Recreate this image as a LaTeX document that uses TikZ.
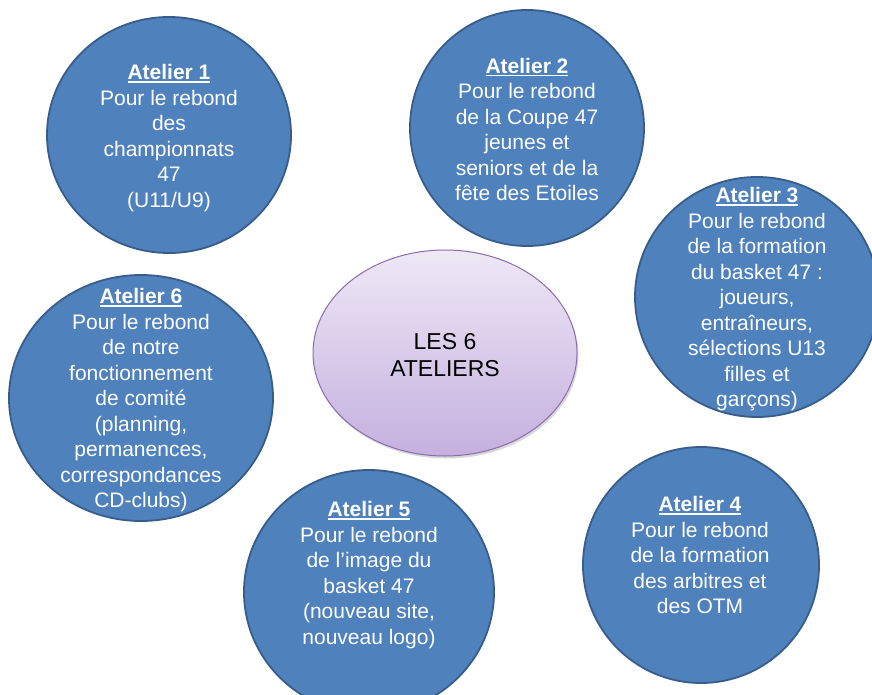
\documentclass[tikz,border=0pt]{standalone}
\usepackage{fontspec}
\setmainfont{Liberation Sans}
\usetikzlibrary{shapes.geometric,shadows}
\definecolor{ablue}{HTML}{4F81BD}
\definecolor{ablueline}{HTML}{385D8A}
\definecolor{ptop}{HTML}{EEE8F6}
\definecolor{pbot}{HTML}{C5B0DF}
\definecolor{pline}{HTML}{8A6DAD}
\newcommand\myul[1]{\setbox0\hbox{#1}\rlap{\rule[-3.2pt]{\wd0}{1.8pt}}\box0}
\begin{document}
\begin{tikzpicture}[x=1pt,y=-1pt,
  bubble/.style={ellipse, draw=ablueline, line width=1.8pt, fill=ablue, inner sep=0pt},
  btext/.style={text=white, align=center, font=\fontsize{21}{25.5}\selectfont, inner sep=0pt},
  hub/.style={ellipse, draw=pline, line width=1pt, top color=ptop, bottom color=pbot, inner sep=0pt,
    minimum width=264pt, minimum height=206pt,
    drop shadow={opacity=0.25, shadow xshift=1.5pt, shadow yshift=-2.5pt, fill=black!60}},
  htext/.style={text=black, align=center, font=\fontsize{23}{27}\selectfont, inner sep=0pt}
]
\useasboundingbox (0,0) rectangle (872,695);
\fill[white] (0,0) rectangle (872,695);

\node[bubble, minimum width=244pt, minimum height=236pt] (a1) at (169,135) {};
\node[btext] (t1) at (169,138) {\myul{\textbf{Atelier 1}}\\Pour le rebond\\des\\championnats\\47\\(U11/U9)};

\node[bubble, minimum width=234pt, minimum height=236pt] (a2) at (527,128) {};
\node[btext] (t2) at (527,129.5) {\myul{\textbf{Atelier 2}}\\Pour le rebond\\de la Coupe 47\\jeunes et\\seniors et de la\\fête des Etoiles};

\node[bubble, minimum width=244pt, minimum height=240pt] (a3) at (757,297) {};
\node[btext] (t3) at (757,299.5) {\myul{\textbf{Atelier 3}}\\Pour le rebond\\de la formation\\du basket 47 :\\joueurs,\\entraîneurs,\\sélections U13\\filles et\\garçons)};

\node[bubble, minimum width=236pt, minimum height=236pt] (a4) at (701,565) {};
\node[btext] (t4) at (700,555) {\myul{\textbf{Atelier 4}}\\Pour le rebond\\de la formation\\des arbitres et\\des OTM};

\node[bubble, minimum width=250pt, minimum height=244pt] (a5) at (369,592) {};
\node[btext] (t5) at (369,575) {\myul{\textbf{Atelier 5}}\\Pour le rebond\\de l’image du\\basket 47\\(nouveau site,\\nouveau logo)};

\node[bubble, minimum width=264pt, minimum height=246pt] (a6) at (141,398) {};
\node[btext] (t6) at (141,400.5) {\myul{\textbf{Atelier 6}}\\Pour le rebond\\de notre\\fonctionnement\\de comité\\(planning,\\permanences,\\correspondances\\CD-clubs)};

\node[hub] (hub) at (445,353) {};
\node[htext] (th) at (445,355) {LES 6\\ATELIERS};
\end{tikzpicture}
\end{document}
